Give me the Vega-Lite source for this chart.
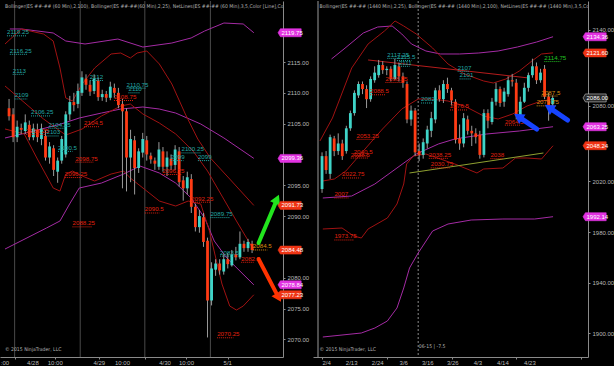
{
  "$schema": "https://vega.github.io/schema/vega-lite/v6.json",
  "background": "#000000",
  "padding": 0,
  "spacing": 30,
  "bounds": "flush",
  "config": {
    "view": {"stroke": null},
    "axis": {"labelColor": "#b8b8b8", "labelFontSize": 6, "labelFont": "Liberation Sans", "tickColor": "#8a8a8a", "domainColor": "#8a8a8a", "tickSize": 2, "grid": false, "labelPadding": 2, "labelOverlap": false},
    "text": {"font": "Liberation Sans", "fontSize": 6}
  },
  "datasets": {
    "candL": [
      {"t":1,"o":2107.5,"h":2109,"l":2105.5,"c":2106.2},
      {"t":2,"o":2106.5,"h":2107.5,"l":2102,"c":2102.8},
      {"t":3,"o":2102.8,"h":2105.5,"l":2102,"c":2104.5},
      {"t":4,"o":2104.3,"h":2105,"l":2103.3,"c":2104.0},
      {"t":5,"o":2103.8,"h":2106.5,"l":2103.3,"c":2105.2},
      {"t":6,"o":2104.8,"h":2105.5,"l":2102.3,"c":2102.8},
      {"t":7,"o":2102.8,"h":2105,"l":2102.3,"c":2104.2},
      {"t":8,"o":2104,"h":2105,"l":2102,"c":2102.8},
      {"t":9,"o":2102.5,"h":2105,"l":2101.5,"c":2104.2},
      {"t":10,"o":2103,"h":2104,"l":2099,"c":2099.5},
      {"t":11,"o":2099.5,"h":2102,"l":2098.5,"c":2101.3},
      {"t":12,"o":2101,"h":2101.5,"l":2096.5,"c":2097.5},
      {"t":13,"o":2097.2,"h":2099.5,"l":2095.4,"c":2099},
      {"t":14,"o":2099,"h":2103,"l":2098.5,"c":2102.5},
      {"t":15,"o":2100,"h":2107,"l":2099.5,"c":2106.5},
      {"t":16,"o":2106.5,"h":2109.5,"l":2105.5,"c":2108.5},
      {"t":17,"o":2108.5,"h":2110,"l":2107,"c":2108.0},
      {"t":18,"o":2108.2,"h":2111.5,"l":2107.5,"c":2110.3},
      {"t":19,"o":2110,"h":2113.5,"l":2109.5,"c":2112.5},
      {"t":20,"o":2112.3,"h":2113,"l":2110.5,"c":2111.3},
      {"t":21,"o":2111.3,"h":2112,"l":2109.5,"c":2110.2},
      {"t":22,"o":2110.3,"h":2113,"l":2109.8,"c":2112.3},
      {"t":23,"o":2112,"h":2112.5,"l":2108.7,"c":2109.3},
      {"t":24,"o":2109.3,"h":2110.5,"l":2108.7,"c":2109.8},
      {"t":25,"o":2109.8,"h":2110.3,"l":2108.5,"c":2109.2},
      {"t":26,"o":2109.2,"h":2111.8,"l":2108.8,"c":2111.0},
      {"t":27,"o":2110.8,"h":2111.5,"l":2109.2,"c":2110.0},
      {"t":28,"o":2110,"h":2110.8,"l":2107.5,"c":2108.0},
      {"t":29,"o":2108.2,"h":2109,"l":2094.5,"c":2107.0},
      {"t":30,"o":2107,"h":2107.5,"l":2094,"c":2099.5},
      {"t":31,"o":2099.5,"h":2104,"l":2095.5,"c":2102.5},
      {"t":32,"o":2102.3,"h":2103,"l":2093.5,"c":2097.8},
      {"t":33,"o":2097.8,"h":2101,"l":2097,"c":2100.5},
      {"t":34,"o":2100.3,"h":2103.5,"l":2099.5,"c":2102.5},
      {"t":35,"o":2102.3,"h":2103,"l":2099,"c":2100},
      {"t":36,"o":2099.8,"h":2100.3,"l":2098.5,"c":2099.2},
      {"t":37,"o":2099,"h":2099.5,"l":2097.5,"c":2098.5},
      {"t":38,"o":2098,"h":2102,"l":2097.5,"c":2100.8},
      {"t":39,"o":2100.5,"h":2101.2,"l":2097.2,"c":2098},
      {"t":40,"o":2098,"h":2100.5,"l":2096.5,"c":2099.5},
      {"t":41,"o":2099.3,"h":2100,"l":2097.5,"c":2098.2},
      {"t":42,"o":2098.3,"h":2101.5,"l":2097.5,"c":2100.8},
      {"t":43,"o":2100.5,"h":2101.2,"l":2094.8,"c":2095.5},
      {"t":44,"o":2095.8,"h":2096.5,"l":2092.5,"c":2094.5},
      {"t":45,"o":2094.5,"h":2097.2,"l":2093.5,"c":2096.3},
      {"t":46,"o":2096,"h":2096.8,"l":2090.5,"c":2091.5},
      {"t":47,"o":2091.5,"h":2092,"l":2087.5,"c":2088.2},
      {"t":48,"o":2088.2,"h":2091,"l":2087.3,"c":2090.0},
      {"t":49,"o":2089.8,"h":2090.5,"l":2085,"c":2085.8},
      {"t":50,"o":2086,"h":2086.5,"l":2070.3,"c":2076.3},
      {"t":51,"o":2076.3,"h":2082.5,"l":2075.5,"c":2081.5},
      {"t":52,"o":2081.3,"h":2083,"l":2080.3,"c":2082.3},
      {"t":53,"o":2082.3,"h":2083,"l":2080.5,"c":2081.2},
      {"t":54,"o":2081,"h":2083.8,"l":2080.5,"c":2083},
      {"t":55,"o":2083,"h":2084,"l":2081.5,"c":2082.2},
      {"t":56,"o":2082,"h":2084.5,"l":2081.8,"c":2083.8},
      {"t":57,"o":2083.8,"h":2085,"l":2082.8,"c":2083.3},
      {"t":58,"o":2083.3,"h":2087.5,"l":2083,"c":2085.5},
      {"t":59,"o":2085.5,"h":2086,"l":2084.2,"c":2084.8},
      {"t":60,"o":2084.8,"h":2086.3,"l":2084.2,"c":2085.8},
      {"t":61,"o":2085.5,"h":2086,"l":2084,"c":2084.5}
    ],
    "bandL": [
      {"s":"pu","t":1.19,"p":2120.36},{"s":"pu","t":4.05,"p":2120.36},{"s":"pu","t":11.9,"p":2119.71},{"s":"pu","t":15,"p":2118.41},{"s":"pu","t":19.76,"p":2117.92},{"s":"pu","t":27.86,"p":2118.73},{"s":"pu","t":34.05,"p":2117.43},{"s":"pu","t":41.19,"p":2118.08},{"s":"pu","t":45.95,"p":2118.9},{"s":"pu","t":49.29,"p":2120.03},{"s":"pu","t":54.05,"p":2121.33},{"s":"pu","t":58.81,"p":2121.17},{"s":"pu","t":61.43,"p":2119.75},
      {"s":"pm","t":0,"p":2102.67},{"s":"pm","t":7.14,"p":2103.8},{"s":"pm","t":13.81,"p":2104.94},{"s":"pm","t":18.33,"p":2105.91},{"s":"pm","t":23.81,"p":2106.72},{"s":"pm","t":28.57,"p":2107.37},{"s":"pm","t":34.05,"p":2107.7},{"s":"pm","t":38.1,"p":2107.37},{"s":"pm","t":42.14,"p":2106.72},{"s":"pm","t":48.33,"p":2104.94},{"s":"pm","t":54.05,"p":2102.67},{"s":"pm","t":61.43,"p":2099.36},
      {"s":"pl","t":0,"p":2084.65},{"s":"pl","t":10.24,"p":2088.06},{"s":"pl","t":13.57,"p":2089.2},{"s":"pl","t":15.95,"p":2091.96},{"s":"pl","t":18.33,"p":2094.55},{"s":"pl","t":23.81,"p":2095.36},{"s":"pl","t":29.29,"p":2096.82},{"s":"pl","t":33.33,"p":2098.12},{"s":"pl","t":38.1,"p":2096.99},{"s":"pl","t":42.14,"p":2095.36},{"s":"pl","t":45.95,"p":2092.93},{"s":"pl","t":49.29,"p":2089.68},{"s":"pl","t":51.67,"p":2085.95},{"s":"pl","t":54.76,"p":2083.19},{"s":"pl","t":61.43,"p":2078.84},
      {"s":"ru","t":0,"p":2117.92},{"s":"ru","t":4.05,"p":2120.36},{"s":"ru","t":9.52,"p":2119.54},{"s":"ru","t":11.9,"p":2118.41},{"s":"ru","t":13.57,"p":2114.03},{"s":"ru","t":15,"p":2109.16},{"s":"ru","t":16.67,"p":2108.67},{"s":"ru","t":19.05,"p":2111.43},{"s":"ru","t":22.14,"p":2114.03},{"s":"ru","t":26.19,"p":2116.3},{"s":"ru","t":28.57,"p":2116.46},{"s":"ru","t":30.95,"p":2115.65},{"s":"ru","t":32.62,"p":2116.46},{"s":"ru","t":35,"p":2116.79},{"s":"ru","t":38.1,"p":2114.68},{"s":"ru","t":41.19,"p":2111.43},{"s":"ru","t":44.52,"p":2106.56},{"s":"ru","t":47.6,"p":2102.5},{"s":"ru","t":50.71,"p":2099.42},{"s":"ru","t":55.48,"p":2096.01},{"s":"ru","t":61.43,"p":2091.73},
      {"s":"rm","t":0,"p":2111.11},{"s":"rm","t":9.52,"p":2105.75},{"s":"rm","t":15,"p":2103.15},{"s":"rm","t":19.05,"p":2104.13},{"s":"rm","t":23.81,"p":2106.24},{"s":"rm","t":28.57,"p":2107.86},{"s":"rm","t":30.95,"p":2108.18},{"s":"rm","t":34.05,"p":2106.56},{"s":"rm","t":38.1,"p":2105.1},{"s":"rm","t":42.14,"p":2103.32},{"s":"rm","t":46.43,"p":2100.56},{"s":"rm","t":50,"p":2097.31},{"s":"rm","t":53.57,"p":2093.25},{"s":"rm","t":57.14,"p":2089.2},{"s":"rm","t":61.43,"p":2084.48},
      {"s":"rl","t":0,"p":2104.13},{"s":"rl","t":4.76,"p":2103.32},{"s":"rl","t":7.86,"p":2099.42},{"s":"rl","t":11.9,"p":2094.55},{"s":"rl","t":13.57,"p":2094.06},{"s":"rl","t":15,"p":2096.82},{"s":"rl","t":16.67,"p":2097.31},{"s":"rl","t":19.05,"p":2096.5},{"s":"rl","t":22.14,"p":2095.69},{"s":"rl","t":26.19,"p":2096.82},{"s":"rl","t":29.29,"p":2097.31},{"s":"rl","t":30.95,"p":2096.17},{"s":"rl","t":35,"p":2094.06},{"s":"rl","t":38.1,"p":2092.44},{"s":"rl","t":42.14,"p":2091.63},{"s":"rl","t":45.24,"p":2092.44},{"s":"rl","t":48.33,"p":2091.96},{"s":"rl","t":50.48,"p":2087.57},{"s":"rl","t":52.38,"p":2082.22},{"s":"rl","t":53.57,"p":2078.97},{"s":"rl","t":55.48,"p":2075.4},{"s":"rl","t":57.14,"p":2074.75},{"s":"rl","t":58.81,"p":2075.4},{"s":"rl","t":61.43,"p":2077.23}
    ],
    "netL": [
      {"k":"teal","lab":"2119.25","t0":0.48,"t1":5.24,"p":2119.25},
      {"k":"teal","lab":"2116.25","t0":1.19,"t1":5.48,"p":2116.25},
      {"k":"teal","lab":"2113","t0":1.9,"t1":4.76,"p":2113},
      {"k":"teal","lab":"2109","t0":2.38,"t1":5.48,"p":2109},
      {"k":"teal","lab":"2106.25","t0":6.43,"t1":11.19,"p":2106.25},
      {"k":"teal","lab":"2104.25","t0":10.71,"t1":14.76,"p":2104.25},
      {"k":"teal","lab":"2103","t0":10.24,"t1":13.33,"p":2103},
      {"k":"teal","lab":"2100.5","t0":13.1,"t1":16.67,"p":2100.5},
      {"k":"teal","lab":"2112","t0":20.95,"t1":24.29,"p":2112},
      {"k":"teal","lab":"2110.75","t0":30,"t1":34.76,"p":2110.75},
      {"k":"teal","lab":"2110","t0":30.48,"t1":33.33,"p":2110},
      {"k":"teal","lab":"2100.25","t0":43.57,"t1":48.33,"p":2100.25},
      {"k":"teal","lab":"2099","t0":40.95,"t1":44.05,"p":2099},
      {"k":"teal","lab":"2099","t0":47.62,"t1":50.71,"p":2099},
      {"k":"teal","lab":"2089.75","t0":50.71,"t1":55.48,"p":2089.75},
      {"k":"teal","lab":"2083.5","t0":53.1,"t1":56.67,"p":2083.5},
      {"k":"red","lab":"2108.75","t0":26.9,"t1":31.67,"p":2108.75},
      {"k":"red","lab":"2104.5","t0":19.52,"t1":23.33,"p":2104.5},
      {"k":"red","lab":"2103.25","t0":5.24,"t1":10,"p":2103.25},
      {"k":"red","lab":"2098.75","t0":17.38,"t1":21.9,"p":2098.75},
      {"k":"red","lab":"2096.25","t0":14.76,"t1":19.05,"p":2096.25},
      {"k":"red","lab":"2096.75","t0":38.81,"t1":43.57,"p":2096.75},
      {"k":"red","lab":"2092.25","t0":45.95,"t1":50.71,"p":2092.25},
      {"k":"red","lab":"2090.5","t0":34.52,"t1":38.1,"p":2090.5},
      {"k":"red","lab":"2088.25","t0":16.67,"t1":21.43,"p":2088.25},
      {"k":"red","lab":"2082.5","t0":58.33,"t1":61.43,"p":2082.5},
      {"k":"red","lab":"2070.25","t0":52.38,"t1":56.43,"p":2070.25},
      {"k":"orange","lab":"2084.5","t0":61.19,"t1":64.76,"p":2084.5}
    ],
    "badgeL": [
      {"k":"mag","lab":"2119.75","p":2119.75},
      {"k":"mag","lab":"2099.36","p":2099.36},
      {"k":"red","lab":"2091.73","p":2091.73},
      {"k":"red","lab":"2084.48","p":2084.48},
      {"k":"mag","lab":"2078.84","p":2078.84},
      {"k":"red","lab":"2077.23","p":2077.23}
    ],
    "arrowL": [
      {"a":"g","t":62.6,"p":2085.63},{"a":"g","t":66.9,"p":2092.3},
      {"a":"r","t":62.6,"p":2083.03},{"a":"r","t":67.3,"p":2077.1}
    ],
    "xlabL": [
      {"t":0,"lab":":00","al":"left"},
      {"t":6.9,"lab":"4/28","al":"center"},
      {"t":12.4,"lab":"10:00","al":"center"},
      {"t":23.3,"lab":"4/29","al":"center"},
      {"t":29,"lab":"10:00","al":"center"},
      {"t":39.5,"lab":"4/30","al":"center"},
      {"t":44.8,"lab":"10:00","al":"center"},
      {"t":55,"lab":"5/1","al":"center"}
    ],
    "candR": [
      {"t":1,"o":2014,"h":2043,"l":2011,"c":2040},
      {"t":2,"o":2040,"h":2044,"l":2026,"c":2029},
      {"t":3,"o":2026,"h":2057,"l":2022,"c":2055},
      {"t":4,"o":2054,"h":2056,"l":2040,"c":2044},
      {"t":5,"o":2044,"h":2058,"l":2041,"c":2050},
      {"t":6,"o":2050,"h":2053,"l":2037,"c":2040},
      {"t":7,"o":2044,"h":2064,"l":2042,"c":2062},
      {"t":8,"o":2062,"h":2076,"l":2060,"c":2074},
      {"t":9,"o":2074,"h":2092,"l":2072,"c":2090},
      {"t":10,"o":2088,"h":2099,"l":2086,"c":2097},
      {"t":11,"o":2097,"h":2099,"l":2089,"c":2093},
      {"t":12,"o":2093,"h":2096,"l":2078,"c":2085},
      {"t":13,"o":2085,"h":2103,"l":2083,"c":2101},
      {"t":14,"o":2100,"h":2111,"l":2098,"c":2106},
      {"t":15,"o":2104,"h":2116,"l":2102,"c":2112},
      {"t":16,"o":2112,"h":2115,"l":2105,"c":2108},
      {"t":17,"o":2108,"h":2111,"l":2104,"c":2109},
      {"t":18,"o":2109,"h":2111,"l":2099,"c":2101},
      {"t":19,"o":2101,"h":2117,"l":2100,"c":2112},
      {"t":20,"o":2111,"h":2114,"l":2099,"c":2103},
      {"t":21,"o":2103,"h":2106,"l":2094,"c":2098},
      {"t":22,"o":2097,"h":2099,"l":2066,"c":2069},
      {"t":23,"o":2069,"h":2080,"l":2064,"c":2076},
      {"t":24,"o":2076,"h":2078,"l":2040,"c":2043},
      {"t":25,"o":2044,"h":2050,"l":2036,"c":2041},
      {"t":26,"o":2041,"h":2054,"l":2038,"c":2051},
      {"t":27,"o":2050,"h":2064,"l":2046,"c":2061},
      {"t":28,"o":2060,"h":2075,"l":2055,"c":2070},
      {"t":29,"o":2069,"h":2094,"l":2066,"c":2092},
      {"t":30,"o":2092,"h":2096,"l":2083,"c":2085},
      {"t":31,"o":2085,"h":2100,"l":2082,"c":2097},
      {"t":32,"o":2097,"h":2102,"l":2090,"c":2093},
      {"t":33,"o":2092,"h":2094,"l":2080,"c":2084},
      {"t":34,"o":2083,"h":2085,"l":2050,"c":2053},
      {"t":35,"o":2054,"h":2065,"l":2045,"c":2050},
      {"t":36,"o":2050,"h":2074,"l":2047,"c":2070},
      {"t":37,"o":2069,"h":2072,"l":2057,"c":2060},
      {"t":38,"o":2060,"h":2064,"l":2048,"c":2058},
      {"t":39,"o":2058,"h":2062,"l":2050,"c":2055},
      {"t":40,"o":2057,"h":2060,"l":2038,"c":2041},
      {"t":41,"o":2041,"h":2077,"l":2039,"c":2074},
      {"t":42,"o":2074,"h":2077,"l":2062,"c":2068},
      {"t":43,"o":2067,"h":2086,"l":2065,"c":2083},
      {"t":44,"o":2083,"h":2098,"l":2080,"c":2093},
      {"t":45,"o":2093,"h":2095,"l":2079,"c":2082},
      {"t":46,"o":2083,"h":2094,"l":2079,"c":2091},
      {"t":47,"o":2089,"h":2103,"l":2087,"c":2100},
      {"t":48,"o":2100,"h":2105,"l":2095,"c":2099},
      {"t":49,"o":2098,"h":2101,"l":2069,"c":2072},
      {"t":50,"o":2072,"h":2087,"l":2070,"c":2083},
      {"t":51,"o":2083,"h":2098,"l":2082,"c":2094},
      {"t":52,"o":2094,"h":2106,"l":2091,"c":2104},
      {"t":53,"o":2104,"h":2117,"l":2102,"c":2111},
      {"t":54,"o":2111,"h":2114,"l":2097,"c":2100},
      {"t":55,"o":2100,"h":2109,"l":2098,"c":2106},
      {"t":56,"o":2109,"h":2112,"l":2085,"c":2087},
      {"t":57,"o":2087,"h":2090,"l":2068,"c":2079},
      {"t":58,"o":2081,"h":2088,"l":2078,"c":2086}
    ],
    "bandR": [
      {"s":"pu","t":3.33,"p":2116.76},{"s":"pu","t":6.43,"p":2124.67},{"s":"pu","t":11.19,"p":2137.31},{"s":"pu","t":14.76,"p":2142.05},{"s":"pu","t":18.33,"p":2142.84},{"s":"pu","t":20.71,"p":2136.52},{"s":"pu","t":23.1,"p":2128.62},{"s":"pu","t":26.67,"p":2123.09},{"s":"pu","t":30.24,"p":2120.72},{"s":"pu","t":35,"p":2120.72},{"s":"pu","t":39.76,"p":2121.51},{"s":"pu","t":44.52,"p":2123.09},{"s":"pu","t":49.29,"p":2126.25},{"s":"pu","t":54.05,"p":2130.2},{"s":"pu","t":58.1,"p":2134.36},
      {"s":"pm","t":1.19,"p":2006.92},{"s":"pm","t":8.33,"p":2008.5},{"s":"pm","t":14.05,"p":2017.98},{"s":"pm","t":19.52,"p":2030.63},{"s":"pm","t":24.29,"p":2041.69},{"s":"pm","t":29.76,"p":2049.6},{"s":"pm","t":33.81,"p":2053.54},{"s":"pm","t":41.67,"p":2057.49},{"s":"pm","t":49.76,"p":2059.87},{"s":"pm","t":58.1,"p":2063.25},
      {"s":"pl","t":1.19,"p":1897.07},{"s":"pl","t":10.71,"p":1900.23},{"s":"pl","t":14.05,"p":1904.18},{"s":"pl","t":17.14,"p":1909.71},{"s":"pl","t":19.52,"p":1919.99},{"s":"pl","t":21.19,"p":1935.8},{"s":"pl","t":22.62,"p":1951.6},{"s":"pl","t":24.76,"p":1963.45},{"s":"pl","t":28.33,"p":1980.84},{"s":"pl","t":32.14,"p":1986.37},{"s":"pl","t":37.86,"p":1989.53},{"s":"pl","t":45.71,"p":1990.32},{"s":"pl","t":53.57,"p":1990.32},{"s":"pl","t":58.1,"p":1992.14},
      {"s":"ru","t":0.48,"p":2052},{"s":"ru","t":3.57,"p":2070.14},{"s":"ru","t":8.33,"p":2109.65},{"s":"ru","t":12.38,"p":2128.62},{"s":"ru","t":16.43,"p":2138.9},{"s":"ru","t":19.05,"p":2146.8},{"s":"ru","t":21.19,"p":2142.84},{"s":"ru","t":24.29,"p":2136.52},{"s":"ru","t":28.33,"p":2125.46},{"s":"ru","t":32.14,"p":2112.81},{"s":"ru","t":36.19,"p":2104.91},{"s":"ru","t":40.95,"p":2099.38},{"s":"ru","t":43.33,"p":2097.8},{"s":"ru","t":46.43,"p":2100.96},{"s":"ru","t":49.76,"p":2107.28},{"s":"ru","t":52.86,"p":2115.18},{"s":"ru","t":55.24,"p":2120.72},{"s":"ru","t":58.1,"p":2121.6},
      {"s":"rm","t":1.19,"p":2020.35},{"s":"rm","t":4.05,"p":2021.94},{"s":"rm","t":6.9,"p":2028.26},{"s":"rm","t":11.19,"p":2044.06},{"s":"rm","t":15.95,"p":2061.45},{"s":"rm","t":20.71,"p":2077.25},{"s":"rm","t":24.76,"p":2085.15},{"s":"rm","t":27.86,"p":2085.15},{"s":"rm","t":32.14,"p":2083.57},{"s":"rm","t":36.19,"p":2079.63},{"s":"rm","t":40.95,"p":2071.72},{"s":"rm","t":44.52,"p":2069.35},{"s":"rm","t":48.1,"p":2073.3},{"s":"rm","t":51.67,"p":2079.63},{"s":"rm","t":55.24,"p":2083.57},{"s":"rm","t":58.1,"p":2084.92},
      {"s":"rl","t":1.19,"p":1982.42},{"s":"rl","t":5.95,"p":1983.21},{"s":"rl","t":8.81,"p":1976.89},{"s":"rl","t":10.71,"p":1975.31},{"s":"rl","t":12.38,"p":1982.42},{"s":"rl","t":17.14,"p":1991.11},{"s":"rl","t":19.52,"p":2002.17},{"s":"rl","t":21.19,"p":2017.98},{"s":"rl","t":21.9,"p":2033.79},{"s":"rl","t":23.57,"p":2040.11},{"s":"rl","t":26.67,"p":2041.69},{"s":"rl","t":30.24,"p":2037.74},{"s":"rl","t":33.81,"p":2033.79},{"s":"rl","t":39.29,"p":2026.68},{"s":"rl","t":40.95,"p":2029.84},{"s":"rl","t":45.71,"p":2030.63},{"s":"rl","t":48.81,"p":2038.53},{"s":"rl","t":51.67,"p":2038.53},{"s":"rl","t":55.24,"p":2037.74},{"s":"rl","t":58.1,"p":2048.24},
      {"s":"tr","t":12.38,"p":2116},{"s":"tr","t":52.14,"p":2101.75},
      {"s":"tg","t":22.62,"p":2026.68},{"s":"tg","t":55.71,"p":2042.48}
    ],
    "netR": [
      {"k":"teal","lab":"2117.25","t0":17.14,"t1":21.19,"p":2117.25},
      {"k":"teal","lab":"2115.5","t0":19.52,"t1":23.1,"p":2115.5},
      {"k":"teal","lab":"2111","t0":20,"t1":22.62,"p":2111},
      {"k":"teal","lab":"2107","t0":34.52,"t1":37.38,"p":2107},
      {"k":"teal","lab":"2101","t0":35,"t1":37.86,"p":2101},
      {"k":"teal","lab":"2082","t0":25.48,"t1":28.33,"p":2082},
      {"k":"red","lab":"2098.25","t0":16.67,"t1":21.19,"p":2098.25},
      {"k":"red","lab":"2088.5","t0":12.86,"t1":16.67,"p":2088.5},
      {"k":"red","lab":"2053.25","t0":9.52,"t1":14.05,"p":2053.25},
      {"k":"red","lab":"2040.5","t0":8.81,"t1":12.38,"p":2040.5},
      {"k":"red","lab":"2038.5","t0":8.1,"t1":12.38,"p":2038.5},
      {"k":"red","lab":"2022.75","t0":5.95,"t1":10.48,"p":2022.75},
      {"k":"red","lab":"2007","t0":4.05,"t1":7.62,"p":2007},
      {"k":"red","lab":"1973.75","t0":4.05,"t1":8.81,"p":1973.75},
      {"k":"red","lab":"2038.25","t0":27.38,"t1":32.14,"p":2038.25},
      {"k":"red","lab":"2030.75","t0":27.86,"t1":32.62,"p":2030.75},
      {"k":"red","lab":"2038","t0":42.62,"t1":45.71,"p":2038},
      {"k":"red","lab":"2076.5","t0":32.62,"t1":36.9,"p":2076.5},
      {"k":"red","lab":"2064.5","t0":46.19,"t1":50,"p":2064.5},
      {"k":"green","lab":"2114.75","t0":55.95,"t1":60,"p":2114.75},
      {"k":"orange","lab":"2087.5","t0":55.24,"t1":59.29,"p":2087.5},
      {"k":"orange","lab":"2079.75","t0":54.05,"t1":58.81,"p":2079.75}
    ],
    "badgeR": [
      {"k":"mag","lab":"2134.36","p":2134.36},
      {"k":"red","lab":"2121.60","p":2121.6},
      {"k":"gray","lab":"2086.00","p":2086},
      {"k":"mag","lab":"2063.25","p":2063.25},
      {"k":"red","lab":"2048.24","p":2048.24},
      {"k":"mag","lab":"1992.14","p":1992.14}
    ],
    "arrowR": [
      {"a":"b1","t":54.05,"p":2061.45},{"a":"b1","t":50.0,"p":2070.2},
      {"a":"b2","t":61.67,"p":2068.56},{"a":"b2","t":57.6,"p":2077.4}
    ],
    "xlabR": [
      {"t":2.14,"lab":"2/4"},{"t":8.33,"lab":"2/13"},{"t":14.76,"lab":"2/24"},{"t":21.19,"lab":"3/6"},{"t":27.14,"lab":"3/16"},{"t":33.33,"lab":"3/26"},{"t":39.52,"lab":"4/3"},{"t":45.71,"lab":"4/14"},{"t":52.38,"lab":"4/23"}
    ]
  },
  "hconcat": [
    {
      "width": 283,
      "height": 356,
      "layer": [
        {
          "data": {"values": [{"t": 2.38}, {"t": 18.57}, {"t": 34.52}, {"t": 50.71}]},
          "mark": {"type": "rule", "color": "#4a4a4a", "strokeWidth": 1},
          "encoding": {
            "x": {"field": "t", "type": "quantitative", "title": null,
              "scale": {"domain": [0, 67.4], "nice": false, "zero": false},
              "axis": {"values": [2.38, 6.9, 12.4, 18.57, 23.3, 29, 34.52, 39.5, 44.8, 50.71, 55], "labels": false}}
          }
        },
        {
          "data": {"name": "bandL"},
          "mark": {"type": "line", "strokeWidth": 1, "clip": true},
          "encoding": {
            "x": {"field": "t", "type": "quantitative", "title": null},
            "y": {"field": "p", "type": "quantitative", "title": null,
              "scale": {"domain": [2067.13, 2124.9], "nice": false, "zero": false},
              "axis": {"orient": "right", "values": [2070, 2075, 2080, 2090, 2095, 2105, 2110, 2115], "format": ".2f"}},
            "color": {"condition": {"test": "datum.s=='pu'||datum.s=='pm'||datum.s=='pl'", "value": "#a42ba4"}, "value": "#a01212"},
            "detail": {"field": "s"}
          }
        },
        {
          "data": {"name": "candL"},
          "mark": {"type": "rule", "color": "#9a9a9a", "strokeWidth": 1},
          "encoding": {
            "x": {"field": "t", "type": "quantitative"},
            "y": {"field": "l", "type": "quantitative"},
            "y2": {"field": "h"}
          }
        },
        {
          "data": {"name": "candL"},
          "mark": {"type": "bar", "width": 2.8},
          "encoding": {
            "x": {"field": "t", "type": "quantitative"},
            "y": {"field": "o", "type": "quantitative"},
            "y2": {"field": "c"},
            "color": {"condition": {"test": "datum.c >= datum.o", "value": "#3fd4c8"}, "value": "#ff3b14"}
          }
        },
        {
          "data": {"name": "netL"},
          "mark": {"type": "rule", "strokeDash": [1, 1], "strokeWidth": 1},
          "encoding": {
            "x": {"field": "t0", "type": "quantitative"},
            "x2": {"field": "t1"},
            "y": {"field": "p", "type": "quantitative"},
            "color": {"condition": [{"test": "datum.k=='teal'", "value": "#22a8a4"}, {"test": "datum.k=='orange'", "value": "#d98c10"}, {"test": "datum.k=='green'", "value": "#22c022"}], "value": "#e0200e"}
          }
        },
        {
          "data": {"name": "netL"},
          "mark": {"type": "text", "align": "left", "baseline": "bottom", "dy": -0.5, "fontSize": 6.2},
          "encoding": {
            "x": {"field": "t0", "type": "quantitative"},
            "y": {"field": "p", "type": "quantitative"},
            "text": {"field": "lab"},
            "color": {"condition": [{"test": "datum.k=='teal'", "value": "#22a8a4"}, {"test": "datum.k=='orange'", "value": "#d98c10"}, {"test": "datum.k=='green'", "value": "#22c022"}], "value": "#e0200e"}
          }
        },
        {
          "data": {"name": "arrowL"},
          "mark": {"type": "line", "strokeWidth": 4, "strokeCap": "round", "clip": false},
          "encoding": {
            "x": {"field": "t", "type": "quantitative"},
            "y": {"field": "p", "type": "quantitative"},
            "detail": {"field": "a"},
            "color": {"condition": {"test": "datum.a=='g'", "value": "#22e51e"}, "value": "#ff3300"}
          }
        },
        {
          "data": {"values": [{"t": 67.15, "p": 2092.75}]},
          "mark": {"type": "point", "shape": "triangle-up", "filled": true, "opacity": 1, "size": 120, "angle": 24, "color": "#22e51e"},
          "encoding": {"x": {"field": "t", "type": "quantitative"}, "y": {"field": "p", "type": "quantitative"}}
        },
        {
          "data": {"values": [{"t": 67.55, "p": 2076.75}]},
          "mark": {"type": "point", "shape": "triangle-up", "filled": true, "opacity": 1, "size": 120, "angle": 150, "color": "#ff3300"},
          "encoding": {"x": {"field": "t", "type": "quantitative"}, "y": {"field": "p", "type": "quantitative"}}
        },
        {
          "data": {"name": "badgeL"},
          "mark": {"type": "point", "shape": "M0,0L0.3,-0.5L2.9,-0.5L2.9,0.5L0.3,0.5Z", "filled": true, "opacity": 1, "size": 256, "strokeWidth": 0.6},
          "encoding": {
            "x": {"datum": 67.4, "type": "quantitative"},
            "y": {"field": "p", "type": "quantitative"},
            "fill": {"condition": [{"test": "datum.k=='mag'", "value": "#e233e2"}, {"test": "datum.k=='gray'", "value": "#2a2a2a"}], "value": "#ef3414"},
            "stroke": {"condition": [{"test": "datum.k=='mag'", "value": "#e233e2"}, {"test": "datum.k=='gray'", "value": "#c8c8c8"}], "value": "#ef3414"}
          }
        },
        {
          "data": {"name": "badgeL"},
          "mark": {"type": "text", "align": "left", "baseline": "middle", "dx": 3.5, "fontSize": 6, "color": "#ffffff"},
          "encoding": {
            "x": {"datum": 67.4, "type": "quantitative"},
            "y": {"field": "p", "type": "quantitative"},
            "text": {"field": "lab"}
          }
        },
        {
          "data": {"name": "xlabL"},
          "mark": {"type": "text", "baseline": "middle", "dy": 6, "fontSize": 6, "color": "#b8b8b8"},
          "encoding": {
            "x": {"field": "t", "type": "quantitative"},
            "y": {"datum": 2067.13, "type": "quantitative"},
            "text": {"field": "lab"},
            "align": {"condition": {"test": "datum.al=='left'", "value": "left"}, "value": "center"}
          }
        },
        {
          "data": {"values": [{"t": 0, "p": 2124.9, "lab": "Bollinger(ES ##-## (60 Min),2,100), Bollinger(ES ##-##(60 Min),2,25), NetLines(ES ##-## (60 Min),3,5,Color [Line],Color [Line])"}, {"t": 0, "p": 2069.2, "lab": "© 2015 NinjaTrader, LLC"}]},
          "mark": {"type": "text", "align": "left", "baseline": "bottom", "font": "Liberation Sans Narrow, DejaVu Sans Condensed, Liberation Sans", "fontSize": 5.1, "color": "#b4b4b4", "clip": true, "dy": 8, "dx": 0},
          "encoding": {
            "x": {"field": "t", "type": "quantitative"},
            "y": {"field": "p", "type": "quantitative"},
            "text": {"field": "lab"}
          }
        }
      ]
    },
    {
      "width": 275,
      "height": 356,
      "layer": [
        {
          "data": {"values": [{"t": 0, "d": "border"}]},
          "mark": {"type": "rule", "color": "#9a9a9a", "strokeWidth": 1},
          "encoding": {
            "x": {"field": "t", "type": "quantitative", "title": null,
              "scale": {"domain": [0, 65.5], "nice": false, "zero": false},
              "axis": {"values": [1,2,3,4,5,6,7,8,9,10,11,12,13,14,15,16,17,18,19,20,21,22,23,24,25,26,27,28,29,30,31,32,33,34,35,36,37,38,39,40,41,42,43,44,45,46,47,48,49,50,51,52,53,54,55,56,57,58,59,60,61,62,63,64,65], "labels": false}}
          }
        },
        {
          "data": {"values": [{"t": 24.76}]},
          "mark": {"type": "rule", "color": "#8c8c8c", "strokeWidth": 1, "strokeDash": [2, 2]},
          "encoding": {"x": {"field": "t", "type": "quantitative"}}
        },
        {
          "data": {"name": "bandR"},
          "mark": {"type": "line", "strokeWidth": 1, "clip": true},
          "encoding": {
            "x": {"field": "t", "type": "quantitative", "title": null},
            "y": {"field": "p", "type": "quantitative", "title": null,
              "scale": {"domain": [1881.27, 2162.6], "nice": false, "zero": false},
              "axis": {"orient": "right", "values": [1900, 1920, 1940, 1960, 1980, 2000, 2020, 2040, 2080, 2100, 2140, 2160], "format": ".2f"}},
            "color": {"condition": [{"test": "datum.s=='pu'||datum.s=='pm'||datum.s=='pl'", "value": "#a42ba4"}, {"test": "datum.s=='tg'", "value": "#8fa030"}, {"test": "datum.s=='tr'", "value": "#b51c1c"}], "value": "#a01212"},
            "detail": {"field": "s"}
          }
        },
        {
          "data": {"name": "candR"},
          "mark": {"type": "rule", "color": "#9a9a9a", "strokeWidth": 1},
          "encoding": {
            "x": {"field": "t", "type": "quantitative"},
            "y": {"field": "l", "type": "quantitative"},
            "y2": {"field": "h"}
          }
        },
        {
          "data": {"name": "candR"},
          "mark": {"type": "bar", "width": 2.8},
          "encoding": {
            "x": {"field": "t", "type": "quantitative"},
            "y": {"field": "o", "type": "quantitative"},
            "y2": {"field": "c"},
            "color": {"condition": {"test": "datum.c >= datum.o", "value": "#3fd4c8"}, "value": "#ff3b14"}
          }
        },
        {
          "data": {"name": "netR"},
          "mark": {"type": "rule", "strokeDash": [1, 1], "strokeWidth": 1},
          "encoding": {
            "x": {"field": "t0", "type": "quantitative"},
            "x2": {"field": "t1"},
            "y": {"field": "p", "type": "quantitative"},
            "color": {"condition": [{"test": "datum.k=='teal'", "value": "#22a8a4"}, {"test": "datum.k=='orange'", "value": "#d98c10"}, {"test": "datum.k=='green'", "value": "#22c022"}], "value": "#e0200e"}
          }
        },
        {
          "data": {"name": "netR"},
          "mark": {"type": "text", "align": "left", "baseline": "bottom", "dy": -0.5, "fontSize": 6.2},
          "encoding": {
            "x": {"field": "t0", "type": "quantitative"},
            "y": {"field": "p", "type": "quantitative"},
            "text": {"field": "lab"},
            "color": {"condition": [{"test": "datum.k=='teal'", "value": "#22a8a4"}, {"test": "datum.k=='orange'", "value": "#d98c10"}, {"test": "datum.k=='green'", "value": "#22c022"}], "value": "#e0200e"}
          }
        },
        {
          "data": {"name": "arrowR"},
          "mark": {"type": "line", "strokeWidth": 5, "strokeCap": "round", "color": "#1644ff", "clip": false},
          "encoding": {
            "x": {"field": "t", "type": "quantitative"},
            "y": {"field": "p", "type": "quantitative"},
            "detail": {"field": "a"}
          }
        },
        {
          "data": {"values": [{"t": 49.5, "p": 2071.3}, {"t": 57.1, "p": 2078.5}]},
          "mark": {"type": "point", "shape": "triangle-up", "filled": true, "opacity": 1, "size": 130, "angle": 304, "color": "#1644ff"},
          "encoding": {"x": {"field": "t", "type": "quantitative"}, "y": {"field": "p", "type": "quantitative"}}
        },
        {
          "data": {"name": "badgeR"},
          "mark": {"type": "point", "shape": "M0,0L0.3,-0.5L2.9,-0.5L2.9,0.5L0.3,0.5Z", "filled": true, "opacity": 1, "size": 256, "strokeWidth": 0.6},
          "encoding": {
            "x": {"datum": 65.5, "type": "quantitative"},
            "y": {"field": "p", "type": "quantitative"},
            "fill": {"condition": [{"test": "datum.k=='mag'", "value": "#e233e2"}, {"test": "datum.k=='gray'", "value": "#2a2a2a"}], "value": "#ef3414"},
            "stroke": {"condition": [{"test": "datum.k=='mag'", "value": "#e233e2"}, {"test": "datum.k=='gray'", "value": "#c8c8c8"}], "value": "#ef3414"}
          }
        },
        {
          "data": {"name": "badgeR"},
          "mark": {"type": "text", "align": "left", "baseline": "middle", "dx": 3.5, "fontSize": 6, "color": "#ffffff"},
          "encoding": {
            "x": {"datum": 65.5, "type": "quantitative"},
            "y": {"field": "p", "type": "quantitative"},
            "text": {"field": "lab"}
          }
        },
        {
          "data": {"name": "xlabR"},
          "mark": {"type": "text", "align": "center", "baseline": "middle", "dy": 6, "fontSize": 6, "color": "#b8b8b8"},
          "encoding": {
            "x": {"field": "t", "type": "quantitative"},
            "y": {"datum": 1881.27, "type": "quantitative"},
            "text": {"field": "lab"}
          }
        },
        {
          "data": {"values": [{"t": 0.4, "p": 2162.6, "lab": "Bollinger(ES ##-## (1440 Min),2,25), Bollinger(ES ##-## (1440 Min),2,100), NetLines(ES ##-## (1440 Min),3,5,Color [Line],Color [Line])"}, {"t": 0.4, "p": 1891.5, "lab": "© 2015 NinjaTrader, LLC"}, {"t": 24.9, "p": 1893.9, "lab": "06-15 | -7.5"}]},
          "mark": {"type": "text", "align": "left", "baseline": "bottom", "font": "Liberation Sans Narrow, DejaVu Sans Condensed, Liberation Sans", "fontSize": 5.1, "color": "#b4b4b4", "clip": true, "dy": 8},
          "encoding": {
            "x": {"field": "t", "type": "quantitative"},
            "y": {"field": "p", "type": "quantitative"},
            "text": {"field": "lab"}
          }
        }
      ]
    }
  ]
}
